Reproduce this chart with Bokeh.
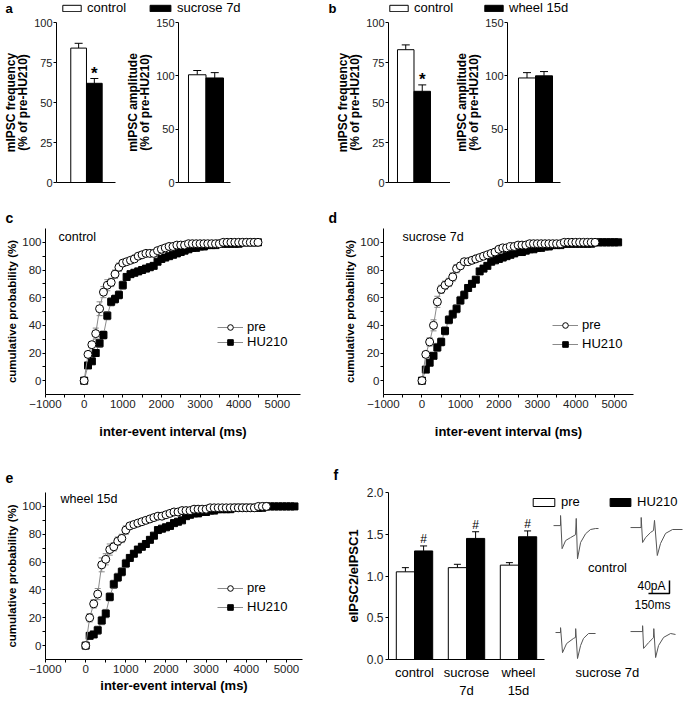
from bokeh.plotting import figure
from bokeh.layouts import row, column
from bokeh.models import (Range1d, Whisker, TeeHead, Legend, LegendItem, Label,
                          ColumnDataSource, FixedTicker, NumeralTickFormatter, LinearAxis)
from bokeh.core.properties import value
from bokeh.embed import file_html
from bokeh.resources import INLINE

FONT = "Liberation Sans"
TICK_TXT = "#222222"
GRAY = "#8a8a8a"
TRACE = "#555555"
NAN = float("nan")

# ---------------- data ----------------
# panel a (control vs sucrose 7d), % of pre-HU210
a_groups = ["control", "sucrose 7d"]
a_freq = [84, 62]
a_freq_err = [3, 3]
a_freq_sig = ["", "*"]
a_amp = [101, 98]
a_amp_err = [4, 5]
# panel b (control vs wheel 15d)
b_groups = ["control", "wheel 15d"]
b_freq = [83, 57]
b_freq_err = [3, 4]
b_freq_sig = ["", "*"]
b_amp = [98, 100]
b_amp_err = [5, 4]
freq_ticks = [0, 25, 50, 75, 100]
amp_ticks = [0, 50, 100, 150]

# cumulative probability (%), bins of 100 ms starting at 0 ms
bin_ms = 100
c_pre = [0, 19, 26, 34, 52, 64, 69, 71, 77, 82, 85, 86, 87, 88, 90, 91, 92, 92, 92, 94,
         95, 96, 97, 97, 98, 98, 98, 99, 99, 99, 99, 99, 99, 99, 99, 99, 100, 100, 100, 100,
         100, 100, 100, 100, 100, 100]
c_hu = [0, 11, 14, 20, 27, 33, 47, 57, 59, 62, 69, 75, 77, 78, 79, 80, 81, 82, 83, 86,
        88, 89, 90, 91, 92, 93, 94, 95, 96, 96, 97, 97, 98, 98, 98, 99, 99, 99, 99, 99,
        99, 100, 100, 100, 100, 100]
c_pre_err = [0, 2, 2, 4, 5, 4, 4, 3, 3, 3, 2, 2, 2, 2, 2, 2]
c_hu_err = [0, 2, 2, 2, 3, 3, 3, 3, 3, 3, 3, 2, 2, 2, 2, 2]

d_pre = [0, 19, 28, 40, 57, 66, 69, 71, 75, 81, 83, 86, 86, 87, 88, 89, 90, 91, 92, 93,
         95, 96, 96, 97, 97, 98, 98, 98, 99, 99, 99, 99, 99, 99, 99, 99, 99, 100, 100, 100,
         100, 100, 100, 100, 100, 100]
d_hu = [0, 8, 13, 18, 24, 28, 36, 44, 48, 52, 58, 62, 67, 70, 73, 79, 81, 83, 86, 87,
        88, 89, 90, 91, 92, 93, 93, 94, 95, 95, 96, 96, 97, 97, 98, 98, 98, 99, 99, 99,
        99, 99, 99, 99, 99, 100, 100, 100, 100, 100, 100, 100]
d_pre_err = [0, 2, 3, 4, 4, 3, 3, 3, 3, 3, 2, 2, 2, 2, 2, 2]
d_hu_err = [0, 2, 2, 2, 3, 3, 3, 3, 3, 3, 3, 3, 2, 2, 2, 2]

e_pre = [0, 20, 30, 37, 58, 62, 69, 71, 75, 77, 83, 86, 87, 88, 89, 90, 91, 92, 93, 93,
         94, 95, 96, 96, 97, 97, 97, 98, 98, 98, 98, 99, 99, 99, 99, 99, 99, 99, 99, 99,
         99, 99, 99, 100, 100, 100]
e_hu = [0, 7, 8, 11, 18, 23, 35, 44, 49, 53, 59, 63, 66, 69, 71, 73, 76, 79, 83, 84,
        85, 86, 88, 89, 90, 93, 94, 95, 95, 96, 96, 97, 97, 98, 98, 98, 98, 99, 99, 99,
        99, 99, 99, 99, 99, 100, 100, 100, 100, 100, 100, 100, 100]
e_pre_err = [0, 3, 3, 4, 5, 4, 4, 3, 3, 3, 3, 2, 2, 2, 2, 2]
e_hu_err = [0, 2, 2, 3, 3, 3, 3, 3, 3, 3, 3, 2, 2, 2, 2, 2]

cdf_xticks = [-1000, 0, 1000, 2000, 3000, 4000, 5000]
cdf_yticks = [0, 20, 40, 60, 80, 100]

# panel f: paired-pulse ratio
f_cats = ["control", "sucrose\n7d", "wheel\n15d"]
f_pre = [1.05, 1.10, 1.13]
f_pre_err = [0.05, 0.04, 0.03]
f_hu = [1.30, 1.45, 1.47]
f_hu_err = [0.06, 0.08, 0.07]
f_sig = ["#", "#", "#"]
f_yticks = [0.0, 0.5, 1.0, 1.5, 2.0]
f_series = ["pre", "HU210"]

# example traces (ms from trace start, pA from baseline)
tr_ctrl_pre_t = [0, 50, 50, 61, 86, 121, 157, 162, 171, 193, 229, 264, 300, 321]
tr_ctrl_pre_i = [0, 0, 31, -71, -46, -37, -28, 22, -102, -52, -25, -12, -9, -9]
tr_ctrl_hu_t = [0, 75, 76, 86, 107, 143, 164, 171, 191, 214, 250, 300, 371]
tr_ctrl_hu_i = [0, 0, 31, -46, -31, -15, -9, 22, -86, -49, -18, -6, -6]
tr_suc_pre_t = [0, 36, 36, 50, 79, 129, 143, 144, 157, 179, 200, 236, 286]
tr_suc_pre_i = [0, 0, 15, -62, -34, -18, -15, 12, -80, -40, -18, -3, -3]
tr_suc_hu_t = [0, 86, 86, 93, 129, 157, 164, 166, 179, 200, 236, 286, 321]
tr_suc_hu_i = [0, 0, 18, -52, -34, -22, -18, 9, -80, -43, -18, -6, -9]
trace_groups = ["control", "sucrose 7d"]
scale_ms = 150
scale_pA = 40


# ---------------- helpers ----------------
def make_fig(w, h, bl, br, bt, bb, xr, yr):
    p = figure(width=w, height=h, x_range=xr, y_range=yr, output_backend="svg",
               toolbar_location=None, min_border_left=bl, min_border_right=br,
               min_border_top=bt, min_border_bottom=bb)
    p.grid.visible = False
    p.outline_line_color = None
    p.background_fill_color = "white"
    p.border_fill_color = "white"
    return p


def strip(w, h):
    p = make_fig(w, h, 0, 0, 0, 0, Range1d(0, w), Range1d(0, h))
    p.axis.visible = False
    return p


def style_axes(p, tick_size):
    for ax in p.axis:
        ax.axis_line_color = "black"
        ax.axis_line_width = 1
        ax.major_tick_line_color = "black"
        ax.minor_tick_line_color = "black"
        ax.major_tick_in = 0
        ax.major_tick_out = 3
        ax.minor_tick_in = 0
        ax.minor_tick_out = 3
        ax.major_label_text_font = FONT
        ax.major_label_text_font_size = tick_size
        ax.major_label_text_color = TICK_TXT
        ax.axis_label_text_font = FONT
        ax.axis_label_text_font_style = "bold"
        ax.axis_label_text_color = "black"
        ax.major_label_standoff = 1
        ax.axis_label_standoff = 1


def add_label(p, text, x, y, size="13px", bold=False, align="left", baseline="middle"):
    p.add_layout(Label(x=x, y=y, x_units="screen", y_units="screen", text=text,
                       text_font=FONT, text_font_size=size,
                       text_font_style="bold" if bold else "normal",
                       text_align=align, text_baseline=baseline, text_color="black"))


def key_legend(p, items, x, y, gw, gh, size="13px", spacing=0):
    lg = Legend(items=items, location=(x, y), orientation="vertical",
                glyph_width=gw, glyph_height=gh, label_standoff=4, padding=0, margin=0,
                spacing=spacing, border_line_color=None, background_fill_alpha=0,
                label_text_font=FONT, label_text_font_size=size, label_height=12,
                label_text_color="black")
    p.add_layout(lg)


def bar_panel(w, h, bl, br, xr, vals, errs, ticks, ylabel, sig=None):
    p = make_fig(w, h, bl, br, 7, 16, xr, Range1d(0, ticks[-1]))
    xs = [i + 1 for i in range(len(vals))]
    src = ColumnDataSource(dict(x=xs, top=vals, up=[v + e for v, e in zip(vals, errs)],
                                fill=["white", "black"]))
    p.add_layout(Whisker(base="x", lower="top", upper="up", source=src, line_color="black",
                         line_width=1, lower_head=None,
                         upper_head=TeeHead(size=8, line_color="black", line_width=1)))
    p.vbar(x="x", top="top", bottom=0, width=1.0, source=src, fill_color="fill",
           line_color="black", line_width=1)
    if sig is not None:
        p.text(x=xs, y=[v + e for v, e in zip(vals, errs)], text=sig,
               text_font=value(FONT), text_font_style="bold", text_font_size="17px",
               text_align="center", text_baseline="bottom", y_offset=4, text_color="black")
    style_axes(p, "11px")
    p.yaxis.ticker = FixedTicker(ticks=ticks)
    p.yaxis.axis_label = ylabel
    p.yaxis.axis_label_text_font_size = "12px"
    p.yaxis.axis_label_text_line_height = 0.9
    p.xaxis.ticker = FixedTicker(ticks=[])
    p.xaxis.major_tick_line_color = None
    p.xaxis.minor_tick_line_color = None
    p.yaxis.minor_tick_line_color = None
    return p


def cdf_panel(w, h, bl, br, bt, bb, xr, pre, hu, pre_err, hu_err, leg_xy, leg_spacing,
              xlabel_standoff):
    p = make_fig(w, h, bl, br, bt, bb, xr, Range1d(-10, 110))
    xs_pre = [bin_ms * i for i in range(len(pre))]
    xs_hu = [bin_ms * i for i in range(len(hu))]
    for xs, ys, es in ((xs_hu, hu, hu_err), (xs_pre, pre, pre_err)):
        n = len(es)
        src = ColumnDataSource(dict(x=xs[:n], lo=[y - e for y, e in zip(ys[:n], es)],
                                    hi=[y + e for y, e in zip(ys[:n], es)]))
        p.add_layout(Whisker(base="x", lower="lo", upper="hi", source=src, line_color=GRAY,
                             line_width=1,
                             lower_head=TeeHead(size=6, line_color=GRAY, line_width=1),
                             upper_head=TeeHead(size=6, line_color=GRAY, line_width=1)))
    l_hu = p.line(xs_hu, hu, line_color=GRAY, line_width=1)
    s_hu = p.scatter(xs_hu, hu, marker="square", size=7, fill_color="black", line_color="black")
    l_pre = p.line(xs_pre, pre, line_color=GRAY, line_width=1)
    s_pre = p.scatter(xs_pre, pre, marker="circle", size=8, fill_color="white",
                      line_color="black", line_width=1)
    key_legend(p, [LegendItem(label=f_series[0], renderers=[l_pre, s_pre]),
                   LegendItem(label=f_series[1], renderers=[l_hu, s_hu])],
               leg_xy[0], leg_xy[1], 26, 14, size="13px", spacing=leg_spacing)
    style_axes(p, "11.5px")
    p.xaxis.ticker = FixedTicker(ticks=cdf_xticks,
                                 minor_ticks=[t + 500 for t in cdf_xticks[:-1]])
    p.yaxis.ticker = FixedTicker(ticks=cdf_yticks,
                                 minor_ticks=[t + 10 for t in cdf_yticks[:-1]])
    p.xaxis.axis_label = "inter-event interval (ms)"
    p.xaxis.axis_label_text_font_size = "13px"
    p.xaxis.major_label_standoff = 2
    p.xaxis.axis_label_standoff = xlabel_standoff
    p.yaxis.axis_label = "cumulative probability (%)"
    p.yaxis.axis_label_text_font_size = "11.5px"
    return p


W = 685

# ---------------- strip 1: legends + letters a, b ----------------
s1 = strip(W, 15)
# legend keys only (no visible mark): one NaN point so the key glyph has a style to draw
key_w = s1.vbar(x=[NAN], top=[NAN], width=1, fill_color="white", line_color="black",
                line_width=1)
key_k = s1.vbar(x=[NAN], top=[NAN], width=1, fill_color="black", line_color="black",
                line_width=1)
key_legend(s1, [LegendItem(label=a_groups[0], renderers=[key_w])], 60, 0, 23, 8)
key_legend(s1, [LegendItem(label=a_groups[1], renderers=[key_k])], 147, 0, 26, 8)
key_legend(s1, [LegendItem(label=b_groups[0], renderers=[key_w])], 387, 0, 23, 8)
key_legend(s1, [LegendItem(label=b_groups[1], renderers=[key_k])], 482, 0, 23, 8)
add_label(s1, "a", 5, 0, size="13px", bold=True, baseline="bottom")
add_label(s1, "b", 328, 0, size="13px", bold=True, baseline="bottom")

# ---------------- row 1: panels a, b ----------------
R1H = 183
a1 = bar_panel(120, R1H, 53, 5, Range1d(-0.409, 3.348), a_freq, a_freq_err, freq_ticks,
               "mIPSC frequency\n(% of pre-HU210)", a_freq_sig)
a2 = bar_panel(200, R1H, 58, 90, Range1d(-0.071, 2.9), a_amp, a_amp_err, amp_ticks,
               "mIPSC amplitude\n(% of pre-HU210)")
b1 = bar_panel(130, R1H, 68, 0, Range1d(-0.045, 3.712), b_freq, b_freq_err, freq_ticks,
               "mIPSC frequency\n(% of pre-HU210)", b_freq_sig)
b2 = bar_panel(235, R1H, 57, 125, Range1d(-0.147, 2.97), b_amp, b_amp_err, amp_ticks,
               "mIPSC amplitude\n(% of pre-HU210)")

# ---------------- strip 2: letters c, d ----------------
s2 = strip(W, 28)
add_label(s2, "c", 5, 1, size="14px", bold=True, baseline="bottom")
add_label(s2, "d", 328, 1, size="14px", bold=True, baseline="bottom")

# ---------------- row 2: panels c, d ----------------
c = cdf_panel(340, 220, 45, 40, 2, 52, Range1d(-1000, 5600), c_pre, c_hu, c_pre_err,
              c_hu_err, (172, 45), 0, 13)
d = cdf_panel(345, 220, 43, 52, 2, 52, Range1d(-1000, 5500), d_pre, d_hu, d_pre_err,
              d_hu_err, (169, 43), 4, 13)
add_label(c, a_groups[0], 13, 165, size="12.5px", baseline="top")
add_label(d, a_groups[1], 19, 165, size="12.5px", baseline="top")

# ---------------- strip 3: letters e, f ----------------
s3 = strip(W, 38)
add_label(s3, "e", 5, 2, size="14px", bold=True, baseline="bottom")
add_label(s3, "f", 333, 2, size="14px", bold=True, baseline="bottom")

# ---------------- row 3: panels e, f ----------------
e = cdf_panel(336, 219, 45, 34, 7, 43, Range1d(-1000, 5400), e_pre, e_hu, e_pre_err,
              e_hu_err, (172, 45), 4, 2)
add_label(e, b_groups[1], 15, 168, size="12.5px", baseline="top")

F_W, F_H = 297, 167          # frame size in px
PX_GROUP = 52.0              # px per category
PX_MS, PX_PA = 0.14, 0.325   # trace scale, px per ms / px per pA
f = make_fig(349, 219, 52, 0, 8, 44, Range1d(0.5, 0.5 + F_W / PX_GROUP), Range1d(0, 2))
f.extra_x_ranges = {"t": Range1d(0, F_W / PX_MS)}
f.extra_y_ranges = {"i": Range1d(0, F_H / PX_PA)}
gx = [i + 1 for i in range(len(f_cats))]
bw = 0.35
f_src = ColumnDataSource(dict(
    xp=[g - bw / 2 for g in gx], xh=[g + bw / 2 for g in gx],
    pre=f_pre, hu=f_hu,
    pre_up=[v + e_ for v, e_ in zip(f_pre, f_pre_err)],
    hu_up=[v + e_ for v, e_ in zip(f_hu, f_hu_err)], sig=f_sig))
for base, lo, up in (("xp", "pre", "pre_up"), ("xh", "hu", "hu_up")):
    f.add_layout(Whisker(base=base, lower=lo, upper=up, source=f_src, line_color="black",
                         line_width=1, lower_head=None,
                         upper_head=TeeHead(size=7, line_color="black", line_width=1)))
r_pre = f.vbar(x="xp", top="pre", bottom=0, width=bw, source=f_src, fill_color="white",
               line_color="black", line_width=1)
r_hu = f.vbar(x="xh", top="hu", bottom=0, width=bw, source=f_src, fill_color="black",
              line_color="black", line_width=1)
f.text(x="xh", y="hu_up", text="sig", source=f_src, text_font=value(FONT),
       text_font_size="12px", text_align="center", text_baseline="bottom", text_color="black")

# label axis below the line-only axis: categories + the name of the lower trace pair
SUC_TRACE_X = 4.71
lab_ax = LinearAxis(ticker=FixedTicker(ticks=gx + [SUC_TRACE_X]),
                    major_label_overrides={**{g: cat for g, cat in zip(gx, f_cats)},
                                           SUC_TRACE_X: trace_groups[1]})
f.add_layout(lab_ax, "below")
style_axes(f, "12px")
f.yaxis.ticker = FixedTicker(ticks=f_yticks)
f.yaxis.formatter = NumeralTickFormatter(format="0.0")
f.yaxis.minor_tick_line_color = None
f.yaxis.axis_label = "eIPSC2/eIPSC1"
f.yaxis.axis_label_text_font_size = "13px"
f.yaxis.major_label_standoff = 2
f.yaxis.axis_label_standoff = 3
line_ax = f.below[0]
line_ax.ticker = FixedTicker(ticks=[])
line_ax.bounds = (0.5, 3.5)
line_ax.major_tick_out = 0
line_ax.minor_tick_out = 0
line_ax.major_label_standoff = 0
line_ax.major_tick_line_color = None
line_ax.minor_tick_line_color = None
lab_ax.axis_line_color = None
lab_ax.major_tick_line_color = None
lab_ax.minor_tick_line_color = None
lab_ax.major_tick_out = 0
lab_ax.minor_tick_out = 0
lab_ax.major_label_standoff = 5
lab_ax.major_label_text_font_size = "13px"
lab_ax.major_label_text_color = "black"

key_legend(f, [LegendItem(label=f_series[0], renderers=[r_pre])], 142, 150, 27, 10)
key_legend(f, [LegendItem(label=f_series[1], renderers=[r_hu])], 219, 150, 26, 10)

traces = [
    (tr_ctrl_pre_t, tr_ctrl_pre_i, 1179, 412),
    (tr_ctrl_hu_t, tr_ctrl_hu_i, 1729, 406),
    (tr_suc_pre_t, tr_suc_pre_i, 1193, 83),
    (tr_suc_hu_t, tr_suc_hu_i, 1729, 86),
]
for tt, ii, t0, i0 in traces:
    f.line([t + t0 for t in tt], [v + i0 for v in ii], x_range_name="t", y_range_name="i",
           line_color=TRACE, line_width=1)
SB_T0, SB_I0 = 1857, 203
f.line([SB_T0, SB_T0 + scale_ms, SB_T0 + scale_ms], [SB_I0, SB_I0, SB_I0 + scale_pA],
       x_range_name="t", y_range_name="i", line_color="black", line_width=1.5)
add_label(f, trace_groups[0], 219, 92, align="center")
add_label(f, f"{scale_pA}pA", 277, 74, size="12px", align="right")
add_label(f, f"{scale_ms}ms", 264, 55, size="12px", align="center")

layout = column(s1, row(a1, a2, b1, b2), s2, row(c, d), s3, row(e, f))
open("out.html", "w").write(file_html(layout, INLINE))
